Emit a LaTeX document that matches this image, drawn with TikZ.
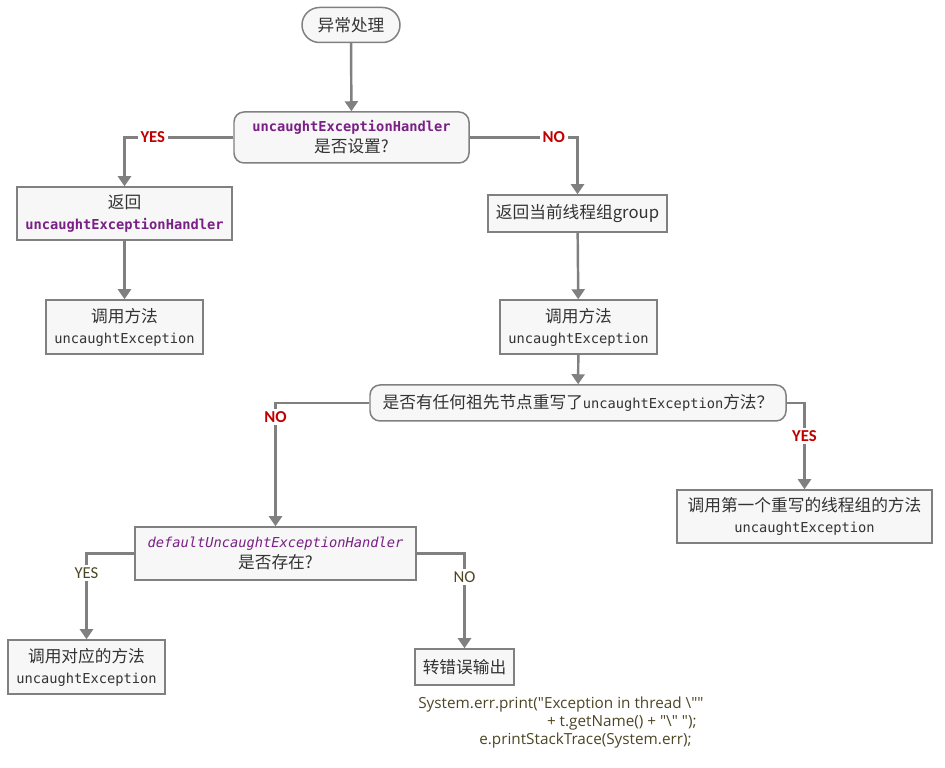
\documentclass[tikz,border=0pt]{standalone}
\usepackage{fontspec}
\setmainfont{Noto Sans CJK SC}
\newfontfamily\codefont{DejaVu Sans Mono}
\newfontfamily\labelfont{Carlito}
\newfontfamily\printfont{Open Sans}
\usetikzlibrary{arrows.meta}
\definecolor{boxgray}{HTML}{F7F7F7}
\definecolor{linegray}{HTML}{808080}
\definecolor{yesred}{HTML}{C00000}
\definecolor{handlerpurple}{HTML}{7A1F86}
\definecolor{olivetext}{HTML}{4D4624}
\definecolor{textgray}{HTML}{333333}
\newcommand{\mono}[1]{{\codefont\fontsize{7.8}{10}\selectfont #1}}
\tikzset{
	box/.style={draw=linegray, line width=0.85pt, fill=boxgray, text=textgray, inner sep=0, align=center, font=\fontsize{9.5}{12}\selectfont},
	roundbox/.style={box, rounded corners=0.2cm},
	startbox/.style={box, rounded corners=0.35cm},
	wire/.style={draw=linegray, line width=1.4pt, -{Triangle[width=0.26cm, length=0.2cm]}},
	redlabel/.style={fill=white, text=yesred, font=\labelfont\bfseries\fontsize{9.5}{11}\selectfont, inner sep=1.5pt},
	plainlabel/.style={fill=white, text=olivetext, font=\labelfont\fontsize{9.5}{11}\selectfont, inner sep=1.5pt},
	codeline/.style={text=olivetext, inner sep=0, font=\printfont\fontsize{8.7}{10}\selectfont},
}
\begin{document}
\begin{tikzpicture}
	\useasboundingbox (0, 0) rectangle (18.9, 15.36);
	% Boxes, questions and wires:
	\node[startbox, minimum width=1.96cm, minimum height=0.7cm] (Start) at (7.02, 14.86) {异常处理};
	\node[roundbox, minimum width=4.7cm, minimum height=1.02cm] (Q1) at (7.03, 12.61) {\textcolor{handlerpurple}{\mono{\bfseries uncaughtExceptionHandler}}\\是否设置?};
	\node[box, minimum width=4.3cm, minimum height=1.06cm] (Ret) at (2.49, 11.09) {返回\\\textcolor{handlerpurple}{\mono{\bfseries uncaughtExceptionHandler}}};
	\node[box, minimum width=3.14cm, minimum height=1.08cm] (CallL) at (2.49, 8.82) {调用方法\\\mono{uncaughtException}};
	\node[box, minimum width=3.58cm, minimum height=0.74cm] (Group) at (11.55, 11.09) {返回当前线程组group};
	\node[box, minimum width=3.14cm, minimum height=1.08cm] (CallR) at (11.57, 8.82) {调用方法\\\mono{uncaughtException}};
	\node[roundbox, minimum width=8.32cm, minimum height=0.72cm] (Q2) at (11.56, 7.3) {是否有任何祖先节点重写了\mono{uncaughtException}方法？};
	\node[box, minimum width=5.1cm, minimum height=1.06cm] (First) at (16.09, 5.03) {调用第一个重写的线程组的方法\\\mono{uncaughtException}};
	\node[box, minimum width=5.62cm, minimum height=1.06cm] (Q3) at (5.51, 4.29) {\textcolor{handlerpurple}{\mono{\itshape defaultUncaughtExceptionHandler}}\\是否存在?};
	\node[box, minimum width=3.14cm, minimum height=1.08cm] (CallD) at (1.73, 2.02) {调用对应的方法\\\mono{uncaughtException}};
	\node[box, minimum width=1.98cm, minimum height=0.72cm] (Err) at (9.29, 2.02) {转错误输出};
	\node[codeline, anchor=west] (Code1) at (8.36, 1.26) {System.err.print("Exception in thread \textbackslash""};
	\node[codeline, anchor=east] (Code2) at (13.94, 0.9) {+ t.getName() + "\textbackslash" ");};
	\node[codeline, anchor=east] (Code3) at (13.84, 0.54) {e.printStackTrace(System.err);};
	\draw[wire] (Start) -- (Q1);
	\draw[wire] (Q1.west) -| node[redlabel, pos=0.37] {YES} (Ret.north);
	\draw[wire] (Q1.east) -| node[redlabel, pos=0.39] {NO} (Group.north);
	\draw[wire] (Ret) -- (CallL);
	\draw[wire] (Group) -- (CallR);
	\draw[wire] (CallR) -- (Q2);
	\draw[wire] (Q2.west) -| node[redlabel, pos=0.556] {NO} (Q3.north);
	\draw[wire] (Q2.east) -| node[redlabel, pos=0.69] {YES} (First.north);
	\draw[wire] (Q3.west) -| node[plainlabel, pos=0.615] {YES} (CallD.north);
	\draw[wire] (Q3.east) -| node[plainlabel, pos=0.625] {NO} (Err.north);
\end{tikzpicture}
\end{document}
